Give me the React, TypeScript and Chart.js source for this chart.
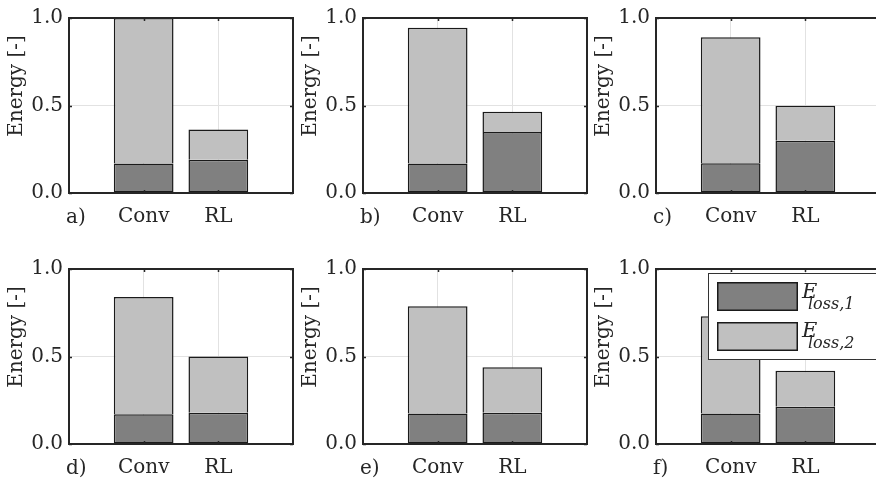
import React, { useEffect, useRef } from 'react';
import { Chart, registerables } from 'chart.js';

Chart.register(...registerables);

// ---- data ----
const categories = ['Conv', 'RL'];
const categoryPositions = [1, 2];
const panelLabels = ['a)', 'b)', 'c)', 'd)', 'e)', 'f)'];
const eLoss1Conv = [0.168, 0.169, 0.17, 0.17, 0.174, 0.174];
const eLoss1RL = [0.19, 0.348, 0.298, 0.178, 0.178, 0.213];
const eLoss2Conv = [0.832, 0.775, 0.72, 0.67, 0.613, 0.556];
const eLoss2RL = [0.173, 0.117, 0.2, 0.322, 0.261, 0.205];
const yTicks = [0, 0.5, 1.0];
const yTitle = 'Energy [-]';
const seriesBase = 'E';
const seriesSubs = ['loss,1', 'loss,2'];

// ---- styles ----
const FONT = "'DejaVu Serif'";
const TEXT = '#262626';
const DARK = '#808080';
const LIGHT = '#c0c0c0';
const EDGE = '#1a1a1a';
const GRID = '#e2e2e2';

const CW = 296;
const CH = 231;
const colLefts = [0, 294, 587];
const rowTops = [0, 251];

function makeDecor(index: number) {
  return {
    id: 'decor' + index,
    afterDraw(chart: any) {
      const { ctx, chartArea: a } = chart;
      const xs = chart.scales.x;
      const ys = chart.scales.y;
      ctx.save();
      // frame
      ctx.strokeStyle = TEXT;
      ctx.lineWidth = 2;
      ctx.strokeRect(a.left, a.top, a.right - a.left, a.bottom - a.top);
      // inward tick marks
      ctx.lineWidth = 1.5;
      ctx.beginPath();
      categoryPositions.forEach((v) => {
        const px = Math.round(xs.getPixelForValue(v)) + 0.5;
        ctx.moveTo(px, a.top);
        ctx.lineTo(px, a.top + 3);
        ctx.moveTo(px, a.bottom);
        ctx.lineTo(px, a.bottom - 3);
      });
      yTicks.forEach((v) => {
        const py = Math.round(ys.getPixelForValue(v)) + 0.5;
        ctx.moveTo(a.left, py);
        ctx.lineTo(a.left + 3, py);
        ctx.moveTo(a.right, py);
        ctx.lineTo(a.right - 3, py);
      });
      ctx.stroke();
      // panel label
      ctx.fillStyle = TEXT;
      ctx.font = `20px ${FONT}`;
      ctx.textAlign = 'left';
      ctx.textBaseline = 'alphabetic';
      ctx.fillText(panelLabels[index], a.left - 3, a.bottom + 30);
      // y title
      ctx.save();
      ctx.translate(a.left - 52, a.top + 68);
      ctx.rotate(-Math.PI / 2);
      ctx.textAlign = 'center';
      ctx.textBaseline = 'middle';
      ctx.fillText(yTitle, 0, 0);
      ctx.restore();
      // legend (last panel only)
      if (index === panelLabels.length - 1) {
        const lx = a.left + 52;
        const ly = a.top + 4;
        ctx.fillStyle = '#ffffff';
        ctx.fillRect(lx, ly, 200, 87);
        ctx.strokeStyle = '#333333';
        ctx.lineWidth = 1;
        ctx.strokeRect(lx + 0.5, ly + 0.5, 200, 86);
        [DARK, LIGHT].forEach((c, i) => {
          const sy = Math.round(ly + 9 + i * 39.7);
          ctx.fillStyle = c;
          ctx.fillRect(lx + 9, sy, 81, 29);
          ctx.strokeStyle = EDGE;
          ctx.lineWidth = 1.5;
          ctx.strokeRect(lx + 9.75, sy + 0.75, 79.5, 27.5);
          ctx.fillStyle = TEXT;
          ctx.textAlign = 'left';
          ctx.textBaseline = 'alphabetic';
          ctx.font = `italic 21px ${FONT}`;
          ctx.fillText(seriesBase, lx + 94, ly + 25 + i * 39);
          ctx.font = `italic 16px ${FONT}`;
          ctx.fillText(seriesSubs[i], lx + 100, ly + 36 + i * 39);
        });
      }
      ctx.restore();
    },
  };
}

function Panel({ index, left, top }: { index: number; left: number; top: number }) {
  const ref = useRef<HTMLCanvasElement>(null);
  useEffect(() => {
    const e1 = [eLoss1Conv[index], eLoss1RL[index]];
    const e2 = [eLoss2Conv[index], eLoss2RL[index]];
    const tickFont = { family: FONT, size: 20 };
    const chart = new Chart(ref.current as HTMLCanvasElement, {
      type: 'bar',
      data: {
        datasets: [
          {
            label: seriesBase + '_' + seriesSubs[0],
            data: categoryPositions.map((x, i) => ({ x, y: e1[i] })),
            backgroundColor: DARK,
            borderColor: EDGE,
            borderWidth: 1.5,
            borderSkipped: false,
            barPercentage: 0.8,
            categoryPercentage: 1,
          },
          {
            label: seriesBase + '_' + seriesSubs[1],
            data: categoryPositions.map((x, i) => ({ x, y: e2[i] })),
            backgroundColor: LIGHT,
            borderColor: EDGE,
            borderWidth: 1.5,
            borderSkipped: 'bottom',
            barPercentage: 0.8,
            categoryPercentage: 1,
          },
        ],
      } as any,
      options: {
        animation: false,
        responsive: false,
        devicePixelRatio: 1,
        events: [],
        layout: { padding: { top: 13, right: 3, left: 0, bottom: 0 } },
        plugins: { legend: { display: false }, tooltip: { enabled: false } },
        scales: {
          x: {
            type: 'linear',
            min: 0,
            max: 3,
            stacked: true,
            offset: false,
            afterBuildTicks: (s: any) => {
              s.ticks = categoryPositions.map((v) => ({ value: v }));
            },
            afterFit: (s: any) => {
              s.height = CH - 13 - 180;
            },
            ticks: {
              callback: (v: any) => {
                const k = categoryPositions.indexOf(Number(v));
                return k >= 0 ? categories[k] : '';
              },
              font: tickFont,
              color: TEXT,
              padding: 12,
              maxRotation: 0,
              autoSkip: false,
            },
            grid: { color: GRID, drawTicks: false, lineWidth: 1, offset: false },
            border: { display: false },
          },
          y: {
            min: 0,
            max: 1,
            stacked: true,
            afterBuildTicks: (s: any) => {
              s.ticks = yTicks.map((v) => ({ value: v }));
            },
            afterFit: (s: any) => {
              s.width = 69;
            },
            ticks: {
              callback: (v: any) => Number(v).toFixed(1),
              font: tickFont,
              color: TEXT,
              padding: 6,
            },
            grid: { color: GRID, drawTicks: false, lineWidth: 1 },
            border: { display: false },
          },
        },
      } as any,
      plugins: [makeDecor(index)],
    });
    return () => chart.destroy();
  }, [index]);
  return (
    <canvas
      ref={ref}
      width={CW}
      height={CH}
      style={{ position: 'absolute', left, top, width: CW, height: CH }}
    />
  );
}

export default function App() {
  return (
    <div
      style={{
        position: 'fixed',
        left: 0,
        top: 0,
        width: 876,
        height: 482,
        overflow: 'hidden',
        background: '#ffffff',
      }}
    >
      {panelLabels.map((_, i) => (
        <Panel
          key={i}
          index={i}
          left={colLefts[i % 3]}
          top={rowTops[Math.floor(i / 3)]}
        />
      ))}
    </div>
  );
}
